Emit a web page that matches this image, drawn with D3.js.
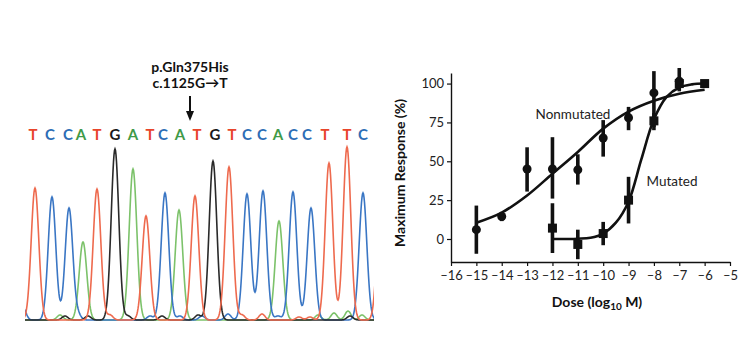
<!DOCTYPE html>
<html><head><meta charset="utf-8">
<script src="https://cdn.jsdelivr.net/npm/d3@7"></script>
<style>body{margin:0;background:#fff} svg{display:block;font-family:Lato,"Noto Sans",sans-serif}</style>
</head><body><svg id="c" width="750" height="350"></svg>
<script>
// ---------- Chromatogram data ----------
const bases = ["T","C","C","A","T","G","A","T","C","A","T","G","T","C","C","A","C","C","T","T","C"];
const basePos = [33,50,68,81,97,115,133,150,163,180,197,215,232,247,262,278,293,307,325,347,363];
const peakBase = ["T","C","C","A","T","G","A","T","C","A","T","G","T","C","C","A","C","C","T","T","C","T"];
const peakPos = [35,52,69,83,97,115,133,146,165,179,195,213,229,247,263,279,293,311,329,347,363,381];
const peakHeight = [132,123,112,78,131,171,151,104,127,110,124,159,153,126,129,99,128,112,157,173,127,130];
const minorBase = ["C","A","G","C","G","T","G","C","G","C","G","C","C","T","T","C","T","T","A","A","A","G","A"];
const minorPos = [23,60,65,78,88,110,128,150,162,180,198,202,228,242,262,278,299,310,318,334,348,350,362];
const minorHeight = [12,5,4,5,4,5,4,4,4,4,5,4,6,5,6,4,3,3,5,7,9,4,5];
const annotation = ["p.Gln375His","c.1125G\u2192T"];
const mutationIndex = 10;

// ---------- Dose-response data ----------
const xTicks = [-16,-15,-14,-13,-12,-11,-10,-9,-8,-7,-6,-5];
const yTicks = [0,25,50,75,100];
const nonDose = [-15,-14,-13,-12,-11,-10,-9,-8,-7];
const nonResp = [6,14.5,45,45,44.5,65,78,94,101.5];
const nonLo   = [-9.5,11.5,30.5,26,35,53,70,72,95];
const nonHi   = [21.5,17.5,59,65.5,54.5,76.5,85,108,110];
const mutDose = [-12,-11,-10,-9,-8,-7,-6];
const mutResp = [7,-3.5,3.5,25,76,100,100];
const mutLo   = [-9,-13,-4,10,70,97,100];
const mutHi   = [23,6,11,40,81,103,100];
const nonFitDose = [-15,-14,-13,-12,-11,-10,-9,-8,-7,-6];
const nonFitResp = [10.5,17,28,42,56,71,82,89,93.5,96];
const mutFitDose = [-12,-11,-10.5,-10,-9.5,-9,-8.5,-8,-7.5,-7,-6.5,-6];
const mutFitResp = [0,0.2,0.8,3.5,10.5,24,51,77,91.5,97.5,99.5,100];

const svg = d3.select("#c");
const baseColor = {T:"#ee6a4e", C:"#3a76c4", A:"#7cc26a", G:"#2a2a2a"};
const letterColor = {T:"#e8452c", C:"#2d6db5", A:"#3f9a48", G:"#1a1a1a"};

// chromatogram scales
const cx = d3.scaleLinear().domain([0,380]).range([0,380]);
const cy = d3.scaleLinear().domain([0,180]).range([320,140]);
const sigma = 3.8;
svg.append("defs").append("clipPath").attr("id","chromClip")
  .append("rect").attr("x",cx(25)).attr("y",0).attr("width",cx(374)-cx(25)).attr("height",350);
const gChrom = svg.append("g").attr("clip-path","url(#chromClip)");
const samples = d3.range(20, 380, 0.5);
["A","C","G","T"].forEach(b=>{
  const pk = [];
  peakBase.forEach((pb,i)=>{ if(pb===b) pk.push([peakPos[i],peakHeight[i],sigma]); });
  minorBase.forEach((pb,i)=>{ if(pb===b) pk.push([minorPos[i],minorHeight[i],3]); });
  const pts = samples.map(s=>[s, d3.sum(pk, p=>p[1]*Math.exp(-((s-p[0])**2)/(2*p[2]*p[2])))]);
  gChrom.append("path").datum(pts)
    .attr("fill","none").attr("stroke",baseColor[b]).attr("stroke-width",1.6)
    .attr("d", d3.line().x(d=>cx(d[0])).y(d=>cy(d[1])));
});
// sequence letters
svg.append("g").selectAll("text").data(bases).join("text")
  .attr("x",(d,i)=>cx(basePos[i])).attr("y",140)
  .attr("text-anchor","middle").attr("font-size",15).attr("font-weight",700)
  .attr("fill",d=>letterColor[d]).text(d=>d);
// annotation
const ax = cx(basePos[mutationIndex]) - 7;
svg.append("g").selectAll("text").data(annotation).join("text")
  .attr("x",ax).attr("y",(d,i)=>72+i*16).attr("text-anchor","middle")
  .attr("font-size",14).attr("font-weight",700).attr("fill","#111").text(d=>d);
svg.append("line").attr("x1",ax).attr("x2",ax).attr("y1",96).attr("y2",113)
  .attr("stroke","#111").attr("stroke-width",2);
svg.append("path").attr("d",`M${ax-4},111 L${ax+4},111 L${ax},121 Z`).attr("fill","#111");

// ---------- dose-response ----------
const x = d3.scaleLinear().domain([-16,-5]).range([451,730]);
const y = d3.scaleLinear().domain([-14.8,106.8]).range([262,73]);
const fmt = v => v<0 ? "\u2013"+Math.abs(v) : String(v);
const gx = svg.append("g").attr("transform","translate(0,262)")
  .call(d3.axisBottom(x).tickValues(xTicks).tickFormat(fmt).tickSize(4).tickSizeOuter(0).tickPadding(5));
const gy = svg.append("g").attr("transform","translate(451,0)")
  .call(d3.axisLeft(y).tickValues(yTicks).tickSize(4).tickSizeOuter(0).tickPadding(3));
[gx,gy].forEach(g=>{
  g.selectAll("text").attr("font-size",13).attr("fill","#222").attr("font-family","Lato,sans-serif");
  g.select(".domain").attr("stroke","#111").attr("stroke-width",1.4);
  g.selectAll(".tick line").attr("stroke","#111").attr("stroke-width",1.2);
});
// axis titles
const xt = svg.append("text").attr("x",597).attr("y",307).attr("text-anchor","middle")
  .attr("font-size",14).attr("font-weight",700).attr("fill","#111");
xt.append("tspan").text("Dose (log");
xt.append("tspan").attr("font-size",10).attr("dy",3).text("10");
xt.append("tspan").attr("dy",-3).text(" M)");
svg.append("text").attr("transform","translate(405,173) rotate(-90)").attr("text-anchor","middle")
  .attr("font-size",14).attr("font-weight",700).attr("fill","#111").text("Maximum Response (%)");

// fitted curves
const line = d3.line().curve(d3.curveCatmullRom.alpha(0.5));
svg.append("path").attr("fill","none").attr("stroke","#111").attr("stroke-width",2.6)
  .attr("d", line(nonFitDose.map((d,i)=>[x(d),y(nonFitResp[i])])));
svg.append("path").attr("fill","none").attr("stroke","#111").attr("stroke-width",2.6)
  .attr("d", line(mutFitDose.map((d,i)=>[x(d),y(mutFitResp[i])])));

// error bars
const eb = svg.append("g").attr("stroke","#111").attr("stroke-width",3.6);
nonDose.forEach((d,i)=>eb.append("line").attr("x1",x(d)).attr("x2",x(d)).attr("y1",y(nonLo[i])).attr("y2",y(nonHi[i])));
mutDose.forEach((d,i)=>eb.append("line").attr("x1",x(d)).attr("x2",x(d)).attr("y1",y(mutLo[i])).attr("y2",y(mutHi[i])));
// markers
svg.append("g").selectAll("circle").data(nonDose).join("circle")
  .attr("cx",d=>x(d)).attr("cy",(d,i)=>y(nonResp[i])).attr("r",4.5).attr("fill","#111");
svg.append("g").selectAll("rect").data(mutDose).join("rect")
  .attr("x",d=>x(d)-4.5).attr("y",(d,i)=>y(mutResp[i])-4.5).attr("width",9).attr("height",9).attr("fill","#111");

// series labels
svg.append("text").attr("x",573).attr("y",119).attr("text-anchor","middle")
  .attr("font-size",13.5).attr("fill","#222").text("Nonmutated");
svg.append("text").attr("x",672).attr("y",186).attr("text-anchor","middle")
  .attr("font-size",13.5).attr("fill","#222").text("Mutated");
</script></body></html>
